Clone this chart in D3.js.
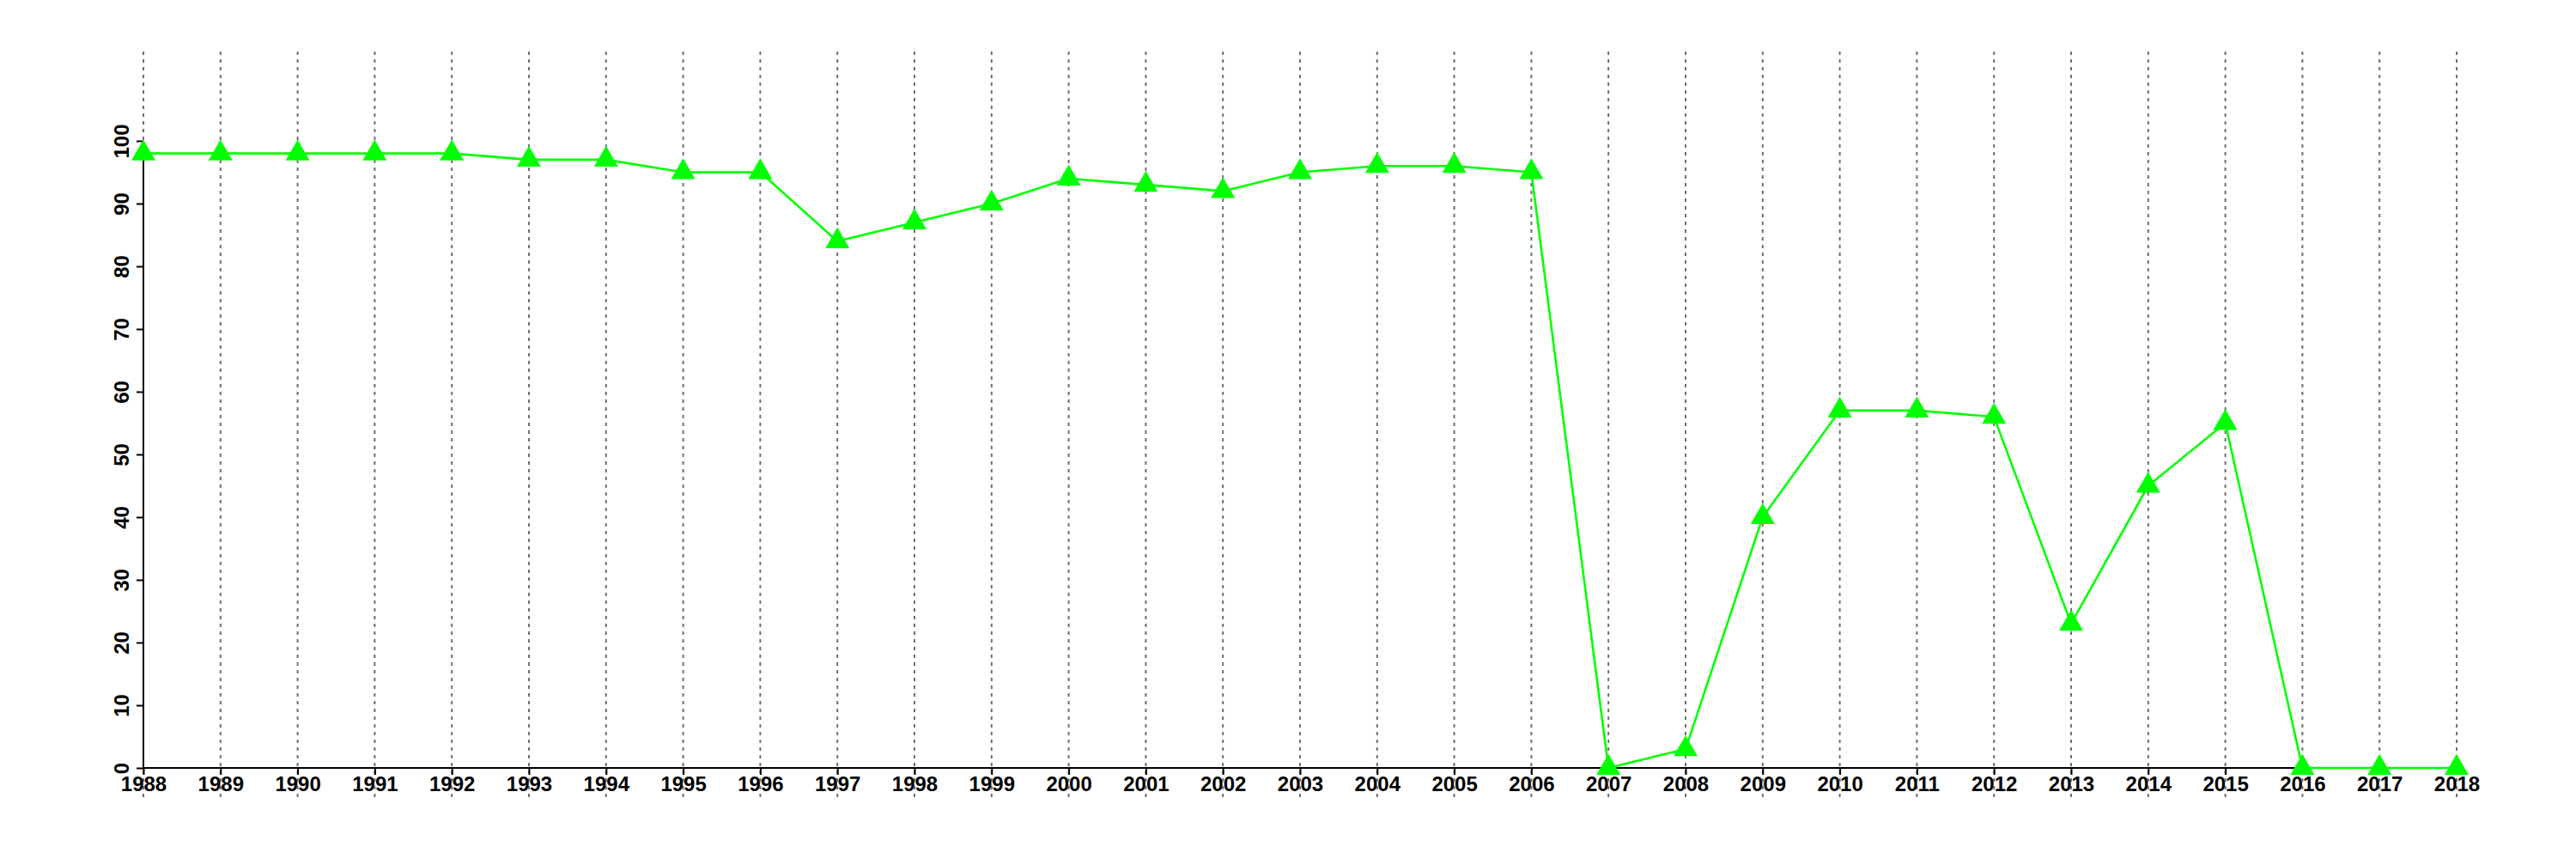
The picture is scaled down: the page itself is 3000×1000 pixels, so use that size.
<!DOCTYPE html>
<html>
<head>
<meta charset="utf-8">
<script src="https://cdn.jsdelivr.net/npm/d3@7"></script>
<style>
  html, body { margin: 0; padding: 0; background: #fff; }
  svg { display: block; }
  text { font-family: "Liberation Sans", Arial, Helvetica, sans-serif; font-weight: bold; }
</style>
</head>
<body>
<script>
const years = [1988,1989,1990,1991,1992,1993,1994,1995,1996,1997,1998,1999,2000,2001,2002,2003,2004,2005,2006,2007,2008,2009,2010,2011,2012,2013,2014,2015,2016,2017,2018];
const values = [98,98,98,98,98,97,97,95,95,84,87,90,94,93,92,95,96,96,95,0,3,40,57,57,56,23,45,55,0,0,0];
const yTicks = [0,10,20,30,40,50,60,70,80,90,100];

const W = 3000, H = 1000;
const mLeft = 167, mRight = 2861, mTop = 164, mBottom = 894;

const svg = d3.select("body").append("svg").attr("width", W).attr("height", H);

const x = d3.scaleLinear().domain([1988, 2018]).range([mLeft, mRight]);
const y = d3.scaleLinear().domain([0, 100]).range([mBottom, mTop]);

// vertical dotted grid lines
svg.append("g").selectAll("line").data(years).join("line")
  .attr("x1", d => x(d)).attr("x2", d => x(d))
  .attr("y1", 60).attr("y2", 928)
  .attr("stroke", "#707070").attr("stroke-width", 2)
  .attr("stroke-dasharray", "4,5");

// x axis
const xAxis = d3.axisBottom(x).tickValues(years).tickFormat(d3.format("d")).tickSize(8).tickPadding(2);
const gx = svg.append("g").attr("transform", `translate(0,${mBottom})`).call(xAxis);
gx.select(".domain").attr("stroke", "#000").attr("stroke-width", 2).attr("d", `M${mLeft},0H${mRight}`);
gx.selectAll(".tick line").attr("stroke", "#000").attr("stroke-width", 2);
gx.selectAll(".tick text").attr("font-size", 24).attr("fill", "#000")
  .attr("font-family", "Liberation Sans, Arial, sans-serif").attr("font-weight", "bold");

// y axis
const yAxis = d3.axisLeft(y).tickValues(yTicks).tickSize(8).tickFormat(d3.format("d"));
const gy = svg.append("g").attr("transform", `translate(${mLeft},0)`).call(yAxis);
gy.select(".domain").attr("stroke", "#000").attr("stroke-width", 2).attr("d", `M0,${mTop}V${mBottom}`);
gy.selectAll(".tick line").attr("stroke", "#000").attr("stroke-width", 2);
gy.selectAll(".tick text")
  .attr("font-size", 24).attr("fill", "#000")
  .attr("font-family", "Liberation Sans, Arial, sans-serif").attr("font-weight", "bold")
  .attr("x", null).attr("dy", null)
  .attr("text-anchor", "middle")
  .attr("transform", "translate(-17,0) rotate(-90)");

// data line
const data = years.map((yr, i) => ({ yr, v: values[i] }));
svg.append("path").datum(data)
  .attr("fill", "none").attr("stroke", "#00ff00").attr("stroke-width", 2.6)
  .attr("stroke-linejoin", "round")
  .attr("d", d3.line().x(d => x(d.yr)).y(d => y(d.v)));

// triangle markers
const tri = d3.symbol().type(d3.symbolTriangle).size(340);
svg.append("g").selectAll("path").data(data).join("path")
  .attr("transform", d => `translate(${x(d.yr)},${y(d.v)})`)
  .attr("d", tri)
  .attr("fill", "#00ff00");
</script>
</body>
</html>
